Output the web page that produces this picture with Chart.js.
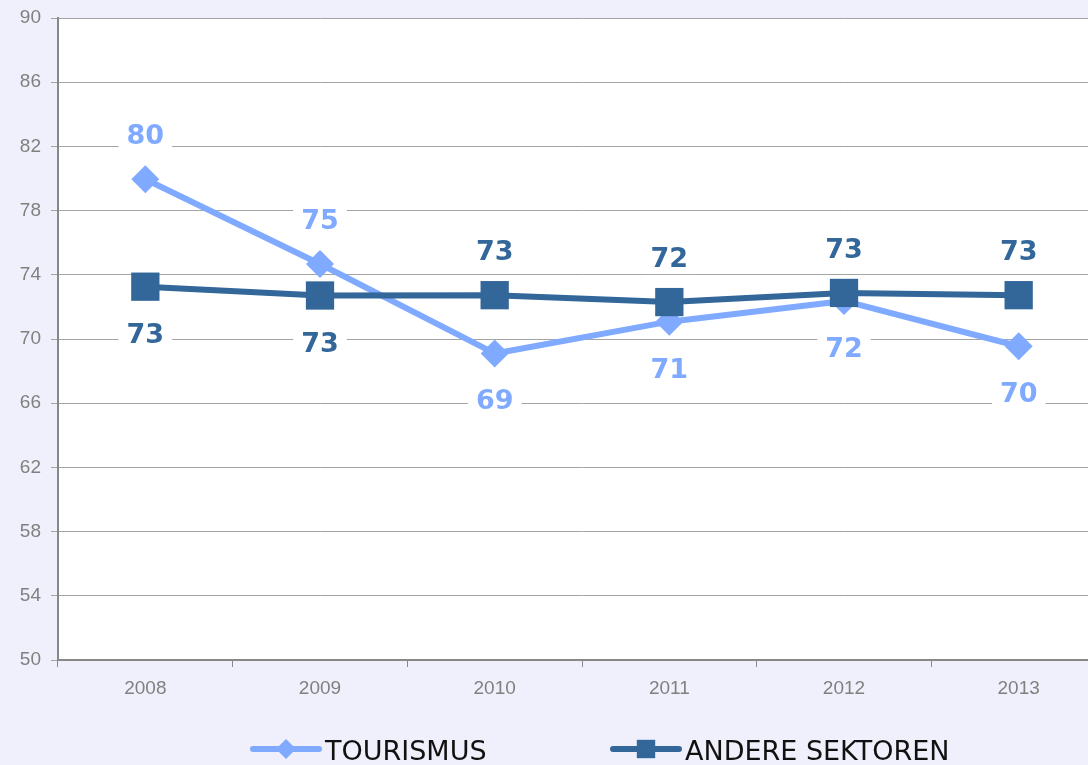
<!DOCTYPE html>
<html>
<head>
<meta charset="utf-8">
<script src="https://cdn.jsdelivr.net/npm/chart.js@4.4.1/dist/chart.umd.min.js"></script>
<style>
  html, body { margin: 0; padding: 0; background: #f0f0fc; overflow: hidden; }
  #wrap { width: 1106px; height: 765px; position: relative; }
  #c { display: block; width: 1106px; height: 765px; }
</style>
</head>
<body>
<div id="wrap"><canvas id="c" width="1106" height="765"></canvas></div>
<script>
// ---- data ----
const categories = ['2008', '2009', '2010', '2011', '2012', '2013'];
const tourismus = [79.95, 74.67, 69.1, 71.08, 72.37, 69.55];
const andereSektoren = [73.26, 72.71, 72.73, 72.3, 72.87, 72.73];
const seriesNames = ['TOURISMUS', 'ANDERE SEKTOREN'];
const yTicks = { min: 50, max: 90, step: 4 };
// label placement relative to point
const tourismusLabelPos = ['top', 'top', 'bottom', 'bottom', 'bottom', 'bottom'];
const andereLabelPos = ['bottom', 'bottom', 'top', 'top', 'top', 'top'];

const LIGHT = '#7faaff';
const DARK = '#336699';

const bgPlugin = {
  id: 'plotBg',
  beforeDraw(chart) {
    const { ctx, chartArea: a } = chart;
    ctx.save();
    ctx.fillStyle = '#ffffff';
    ctx.fillRect(a.left, a.top, chart.width - a.left, a.bottom - a.top);
    ctx.restore();
  }
};

const labelPlugin = {
  id: 'valueLabels',
  afterDatasetsDraw(chart) {
    const { ctx } = chart;
    ctx.save();
    ctx.font = 'bold 27px "DejaVu Sans"';
    chart.data.datasets.forEach((ds, di) => {
      const meta = chart.getDatasetMeta(di);
      meta.data.forEach((pt, i) => {
        const txt = String(Math.round(ds.data[i]));
        const pos = ds.labelPos[i];
        const cy = pt.y + (pos === 'top' ? -45 : 46);
        const w = ctx.measureText(txt).width;
        ctx.fillStyle = '#ffffff';
        ctx.fillRect(pt.x - w / 2 - 8, cy - 17, w + 16, 34);
        ctx.fillStyle = ds.borderColor;
        ctx.textAlign = 'center';
        ctx.textBaseline = 'alphabetic';
        ctx.fillText(txt, pt.x, cy + 10);
      });
    });
    ctx.restore();
  }
};

const legendPlugin = {
  id: 'customLegend',
  afterDraw(chart) {
    const { ctx } = chart;
    const items = [
      { ds: chart.data.datasets[0], x0: 253, x1: 319, tx: 325 },
      { ds: chart.data.datasets[1], x0: 613, x1: 679, tx: 685 }
    ];
    const y = 749;
    ctx.save();
    items.forEach(it => {
      ctx.strokeStyle = it.ds.borderColor;
      ctx.lineWidth = 6;
      ctx.lineCap = 'round';
      ctx.beginPath();
      ctx.moveTo(it.x0, y);
      ctx.lineTo(it.x1, y);
      ctx.stroke();
      ctx.fillStyle = it.ds.borderColor;
      const cx = (it.x0 + it.x1) / 2;
      Chart.helpers.drawPoint(ctx, {
        pointStyle: it.ds.pointStyle,
        radius: it.ds.pointStyle === 'rect' ? 13 : 10,
        borderWidth: 0,
        rotation: 0
      }, cx, y);
      ctx.fillStyle = '#111111';
      ctx.font = '27px "DejaVu Sans"';
      ctx.textAlign = 'left';
      ctx.textBaseline = 'alphabetic';
      ctx.fillText(it.ds.label, it.tx, y + 11);
    });
    ctx.restore();
  }
};

new Chart(document.getElementById('c'), {
  type: 'line',
  data: {
    labels: categories,
    datasets: [
      {
        label: seriesNames[0],
        data: tourismus,
        labelPos: tourismusLabelPos,
        borderColor: LIGHT,
        backgroundColor: LIGHT,
        borderWidth: 6,
        borderCapStyle: 'round',
        borderJoinStyle: 'round',
        pointStyle: 'rectRot',
        pointRadius: 14,
        pointBorderWidth: 0,
        pointBackgroundColor: LIGHT,
        tension: 0,
        order: 1
      },
      {
        label: seriesNames[1],
        data: andereSektoren,
        labelPos: andereLabelPos,
        borderColor: DARK,
        backgroundColor: DARK,
        borderWidth: 6,
        borderCapStyle: 'round',
        borderJoinStyle: 'round',
        pointStyle: 'rect',
        pointRadius: 20,
        pointBorderWidth: 0,
        pointBackgroundColor: DARK,
        tension: 0,
        order: 0
      }
    ]
  },
  options: {
    responsive: false,
    animation: false,
    layout: { autoPadding: false, padding: { top: 18, bottom: 55, left: 0, right: 0 } },
    plugins: { legend: { display: false }, tooltip: { enabled: false } },
    scales: {
      x: {
        offset: true,
        grid: { offset: true, drawOnChartArea: false, drawTicks: true, tickLength: 7, color: '#888888', lineWidth: 1 },
        border: { color: '#888888', width: 2 },
        ticks: { color: '#808080', font: { family: '"Liberation Sans", Arial', size: 19 }, padding: 10, maxRotation: 0 },
        afterFit(s) { s.height = 50; s.paddingLeft = 0; s.paddingRight = 0; }
      },
      y: {
        min: yTicks.min,
        max: yTicks.max,
        grid: { color: '#a4a4a4', lineWidth: 1, tickLength: 7 },
        border: { color: '#888888', width: 2 },
        ticks: { stepSize: yTicks.step, color: '#808080', font: { family: '"Liberation Sans", Arial', size: 19 }, padding: 10 },
        afterFit(s) { s.width = 58; s.paddingTop = 0; s.paddingBottom = 0; }
      }
    }
  },
  plugins: [bgPlugin, labelPlugin, legendPlugin]
});
</script>
</body>
</html>
